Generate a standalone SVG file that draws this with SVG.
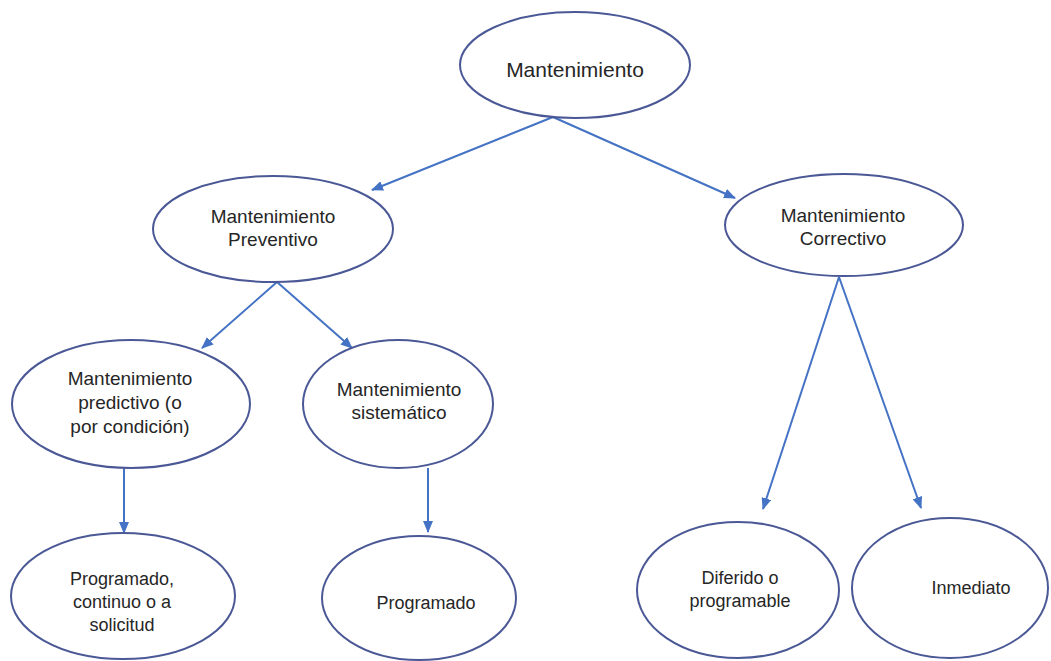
<svg xmlns="http://www.w3.org/2000/svg" width="1051" height="661" viewBox="0 0 1051 661">
  <style>
    .node ellipse { fill: #ffffff; stroke: #4b5896; stroke-width: 2; }
    .node text { font-family: "Liberation Sans", Arial, sans-serif; fill: #262626; text-anchor: middle; }
    .t1 { font-size: 21px; }
    .t2 { font-size: 19px; }
    .t3 { font-size: 18px; }
    .edges line { stroke: #4472c4; stroke-width: 2; marker-end: url(#arrow); }
  </style>
  <defs>
    <marker id="arrow" viewBox="0 0 12 10" refX="11" refY="5" markerWidth="6" markerHeight="5" orient="auto" markerUnits="strokeWidth">
      <path d="M0,0 L12,5 L0,10 Z" fill="#4472c4"/>
    </marker>
  </defs>
  <rect width="1051" height="661" fill="#ffffff"/>

  <g class="edges">
    <line x1="553" y1="117" x2="372" y2="190"/>
    <line x1="553" y1="117" x2="735" y2="198"/>
    <line x1="277" y1="282" x2="202" y2="348"/>
    <line x1="277" y1="282" x2="352" y2="348"/>
    <line x1="839" y1="277" x2="763" y2="509"/>
    <line x1="839" y1="277" x2="921" y2="508"/>
    <line x1="124" y1="468" x2="124" y2="533"/>
    <line x1="428" y1="468" x2="428" y2="532"/>
  </g>

  <g id="mantenimiento" class="node">
    <ellipse cx="575" cy="65" rx="115" ry="53"/>
    <text class="t1" x="575" y="77">Mantenimiento</text>
  </g>
  <g id="preventivo" class="node">
    <ellipse cx="273" cy="229" rx="120" ry="53"/>
    <text class="t2" x="273" y="223">Mantenimiento</text>
    <text class="t2" x="273" y="246">Preventivo</text>
  </g>
  <g id="correctivo" class="node">
    <ellipse cx="844" cy="225" rx="119" ry="51"/>
    <text class="t2" x="843" y="222">Mantenimiento</text>
    <text class="t2" x="843" y="245">Correctivo</text>
  </g>
  <g id="predictivo" class="node">
    <ellipse cx="131" cy="404" rx="119" ry="64"/>
    <text class="t2" x="130" y="385">Mantenimiento</text>
    <text class="t2" x="130" y="409">predictivo (o</text>
    <text class="t2" x="130" y="433">por condición)</text>
  </g>
  <g id="sistematico" class="node">
    <ellipse cx="398" cy="404" rx="95" ry="64"/>
    <text class="t2" x="399" y="396">Mantenimiento</text>
    <text class="t2" x="399" y="419">sistemático</text>
  </g>
  <g id="programado-continuo" class="node">
    <ellipse cx="123" cy="596" rx="112" ry="63"/>
    <text class="t3" x="122" y="585">Programado,</text>
    <text class="t3" x="122" y="608">continuo o a</text>
    <text class="t3" x="122" y="631">solicitud</text>
  </g>
  <g id="programado" class="node">
    <ellipse cx="419" cy="598" rx="97" ry="62"/>
    <text class="t3" x="426" y="609">Programado</text>
  </g>
  <g id="diferido" class="node">
    <ellipse cx="738" cy="590" rx="101" ry="68"/>
    <text class="t3" x="740" y="584">Diferido o</text>
    <text class="t3" x="740" y="607">programable</text>
  </g>
  <g id="inmediato" class="node">
    <ellipse cx="950" cy="588" rx="98" ry="70"/>
    <text class="t3" x="971" y="594">Inmediato</text>
  </g>
</svg>
